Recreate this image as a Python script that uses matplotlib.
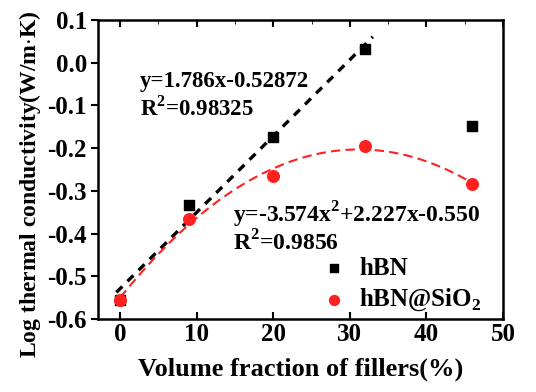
import numpy as np
import matplotlib
matplotlib.use('Agg')
import matplotlib.pyplot as plt

# filler volume fraction (%)
x_vals = [0, 9, 20, 32, 46]
hbn = [-0.555, -0.333, -0.173, 0.033, -0.148]
hbn_sio2 = [-0.555, -0.367, -0.265, -0.195, -0.283]

# fit coefficients (x as fraction)
lin_fit = [1.786, -0.52872]
quad_fit = [-3.574, 2.227, -0.550]

plt.rcParams['font.family'] = ['Liberation Serif', 'DejaVu Serif']
plt.rcParams['font.weight'] = 'bold'
plt.rcParams['mathtext.fontset'] = 'custom'
plt.rcParams['mathtext.rm'] = 'Liberation Serif:bold'

fig = plt.figure(figsize=(5.36, 3.92), dpi=100)
ax = fig.add_axes([98 / 536, 1 - 319 / 392, 405 / 536, 299 / 392])

xl = np.linspace(-0.5, 33, 100)
ax.plot(xl, np.polyval(lin_fit, xl / 100), color='black', ls=(0, (2.5, 2.2)), lw=2.4)
xq = np.linspace(0, 46, 100)
ax.plot(xq, np.polyval(quad_fit, xq / 100), color='#ff2020', ls=(0, (4.5, 2.5)), lw=1.5)

ax.scatter(x_vals, hbn, marker='s', s=42, color='black', label='hBN', zorder=3)
ax.scatter(x_vals, hbn_sio2, marker='o', s=70, color='#ff2020', label='hBN@SiO$_2$', zorder=4)

ax.set_xlim(-2.9, 50)
ax.set_ylim(-0.6, 0.1)
ax.set_xticks([0, 10, 20, 30, 40, 50])
ax.set_yticks(np.arange(-0.6, 0.11, 0.1))
ax.set_yticklabels(['-0.6', '-0.5', '-0.4', '-0.3', '-0.2', '-0.1', '0.0', '0.1'])
ax.set_xticks([5, 15, 25, 35, 45], minor=True)
ax.tick_params(axis='both', labelsize=18, width=1.5, length=5, pad=3)
ax.tick_params(axis='x', direction='in', top=True)
ax.tick_params(axis='y', direction='out')
ax.tick_params(which='minor', direction='in', top=True, bottom=False, length=3)
for sp in ax.spines.values():
    sp.set_linewidth(1.8)

ax.set_xlabel('Volume fraction of fillers(%)', fontsize=19, fontweight='bold', labelpad=8)
ax.set_ylabel('Log thermal conductivity(W/m$\\cdot$K)', fontsize=17, fontweight='bold')
ax.yaxis.set_label_coords(-0.137, 0.45)

ax.text(0.104, 0.776, 'y=1.786x-0.52872', transform=ax.transAxes, fontsize=16.5, fontweight='bold')
ax.text(0.104, 0.682, 'R$^2$=0.98325', transform=ax.transAxes, fontsize=16.5, fontweight='bold')
ax.text(0.333, 0.324, 'y=-3.574x$^2$+2.227x-0.550', transform=ax.transAxes, fontsize=17, fontweight='bold')
ax.text(0.333, 0.23, 'R$^2$=0.9856', transform=ax.transAxes, fontsize=17, fontweight='bold')

ax.legend(loc='lower left', frameon=False, fontsize=18, handlelength=1.0, handletextpad=0.5,
          borderaxespad=0.0, labelspacing=0.3, markerscale=0.85, bbox_to_anchor=(0.527, -0.015))

fig.savefig('out.png', dpi=100)
